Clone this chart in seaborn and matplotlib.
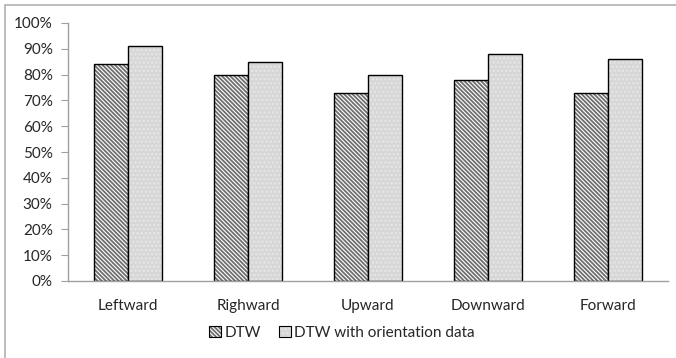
import pandas as pd
import matplotlib.pyplot as plt
import matplotlib.ticker as mticker
import seaborn as sns
from matplotlib.patches import Rectangle
from matplotlib.colors import to_rgba

# Data
directions = ["Leftward", "Righward", "Upward", "Downward", "Forward"]
dtw = [84, 80, 73, 78, 73]
dtw_orient = [91, 85, 80, 88, 86]
series_names = ["DTW", "DTW with orientation data"]

df = pd.DataFrame({
    "Direction": directions * 2,
    "Accuracy": dtw + dtw_orient,
    "Method": [series_names[0]] * len(directions) + [series_names[1]] * len(directions),
})

sns.set_style("white")
plt.rcParams['font.family'] = ['Lato', 'DejaVu Sans']
plt.rcParams['hatch.linewidth'] = 1.3

fig = plt.figure(figsize=(6.76, 3.58), dpi=100)
ax = fig.add_axes([68 / 676, 1 - 281 / 358, 600 / 676, 258 / 358])

sns.barplot(data=df, x="Direction", y="Accuracy", hue="Method",
            palette=["white", "#d6d6d6"], width=0.57, gap=0,
            edgecolor="black", linewidth=1.0, ax=ax, legend=False)

hatches = ["\\" * 8, "." * 4]
hatch_cols = ["#6e6e6e", "#e6e6e6"]
for cont, h, hc in zip(ax.containers, hatches, hatch_cols):
    for bar in cont:
        bar.set_hatch(h)
        bar._hatch_color = to_rgba(hc)

ax.set_ylim(0, 100)
ax.set_xlim(-0.5, len(directions) - 0.5)
ax.yaxis.set_major_locator(mticker.MultipleLocator(10))
ax.yaxis.set_major_formatter(mticker.FuncFormatter(lambda v, p: f"{v:.0f}%"))
ax.set_xlabel("")
ax.set_ylabel("")

# x ticks sit on the category boundaries
ax.set_xticks(range(len(directions)))
ax.set_xticklabels(directions)
ax.xaxis.set_minor_locator(mticker.FixedLocator([i - 0.5 for i in range(len(directions) + 1)]))
ax.tick_params(axis="x", which="major", length=0, pad=13, labelsize=11, colors="#262626")
ax.tick_params(axis="x", which="minor", length=5, color="#a0a0a0", direction="out")
ax.tick_params(axis="y", length=5, color="#a0a0a0", direction="out", labelsize=11,
               labelcolor="#262626", left=True, pad=6)

for side in ["top", "right"]:
    ax.spines[side].set_visible(False)
for side in ["left", "bottom"]:
    ax.spines[side].set_color("#a0a0a0")
    ax.spines[side].set_linewidth(1.0)

# legend at the bottom
handles = [Rectangle((0, 0), 1, 1, facecolor="white", edgecolor="black", hatch="\\" * 8, linewidth=0.8),
           Rectangle((0, 0), 1, 1, facecolor="#d6d6d6", edgecolor="black", hatch="." * 4, linewidth=0.8)]
for hnd, hc in zip(handles, hatch_cols):
    hnd._hatch_color = to_rgba(hc)
fig.legend(handles, series_names, loc="center", bbox_to_anchor=(342 / 676, 1 - 333 / 358),
           ncol=2, frameon=False, fontsize=11, handlelength=0.75, handleheight=0.75,
           handletextpad=0.25, columnspacing=1.2, labelcolor="#262626")

# outer chart border
fig.patches.append(Rectangle((5 / 676, -0.05), 1.1, 1 - 5 / 358 + 0.05, transform=fig.transFigure,
                             fill=False, edgecolor="#b0b0b0", linewidth=1.2))

fig.savefig("out.png", dpi=100)
